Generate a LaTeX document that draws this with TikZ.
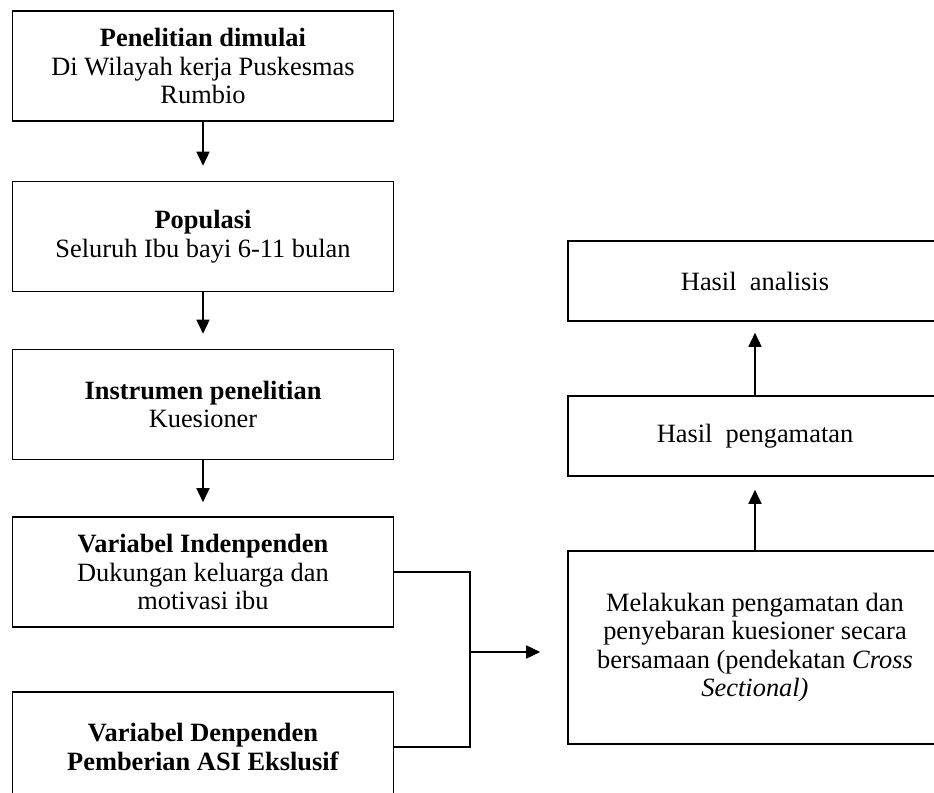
\documentclass[tikz,border=0pt]{standalone}
\usepackage{fontspec}
\setmainfont{Liberation Serif}
\usetikzlibrary{arrows.meta}
\begin{document}
\begin{tikzpicture}[x=0.5pt,y=-0.5pt,
    box/.style={draw,line width=0.8pt,minimum width=190.5pt,minimum height=55pt,
      inner sep=0pt,align=center,font=\fontsize{13.2}{14.2}\selectfont},
    rbox/.style={box,minimum width=187pt,minimum height=40pt},
    arr/.style={-{Triangle[length=7pt,width=6.5pt]},line width=0.8pt}]
\useasboundingbox (0,0) rectangle (934,793);
\clip (0,0) rectangle (934,793);
% left column
\node[box] (start) at (203,66) {\textbf{Penelitian dimulai}\\Di Wilayah kerja Puskesmas\\Rumbio};
\node[box] (pop) at (203,236.5) {\textbf{Populasi}\\Seluruh Ibu bayi 6-11 bulan};
\node[box] (instr) at (203,404.5) {\textbf{Instrumen penelitian}\\Kuesioner};
\node[box] (indep) at (203,572) {\textbf{Variabel Indenpenden}\\Dukungan keluarga dan\\motivasi ibu};
\node[box] (dep) at (203,747) {\textbf{Variabel Denpenden}\\\textbf{Pemberian ASI Ekslusif}};
% right column
\node[box,minimum width=187pt,minimum height=96.5pt] (obs) at (755,647.5)
  {Melakukan pengamatan dan\\penyebaran kuesioner secara\\bersamaan (pendekatan \textit{Cross}\\\textit{Sectional)}};
\node[rbox] (result) at (755,436) {Hasil~~pengamatan};
\node[rbox] (analysis) at (755,281) {Hasil~~analisis};
\coordinate (join) at (470,652);
\draw[arr,shorten >=7.5pt] (start) -- (pop);
\draw[arr,shorten >=7.5pt] (pop) -- (instr);
\draw[arr,shorten >=7pt] (instr) -- (indep);
\draw[line width=0.8pt] (indep.east) -| (join);
\draw[line width=0.6pt] (dep.east) -| (join);
\draw[arr,shorten >=13.5pt] (join) -- (join -| obs.west);
\draw[arr,shorten >=6.5pt] (obs.north) -- (result.south);
\draw[arr,shorten >=5.5pt] (result.north) -- (analysis.south);
\end{tikzpicture}
\end{document}
